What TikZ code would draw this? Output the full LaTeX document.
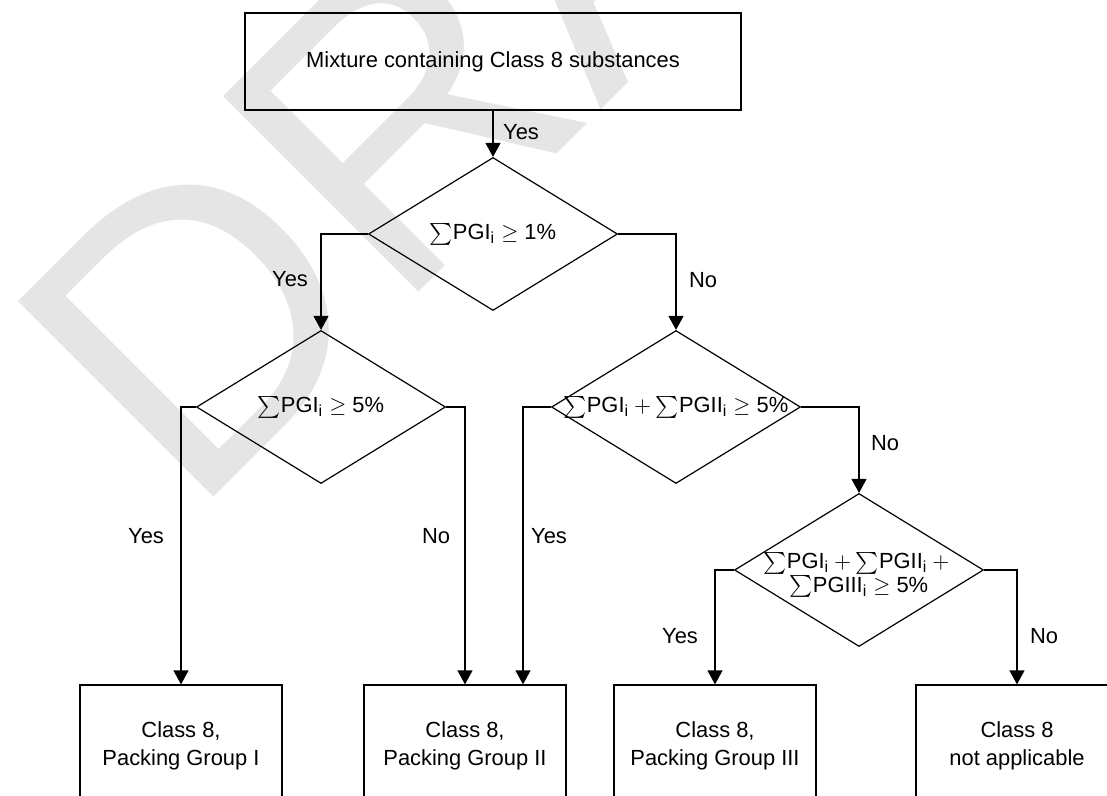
\documentclass[tikz,border=0pt,11pt]{standalone}
\usepackage{amsmath}
\usepackage{fontspec}
\setmainfont{Liberation Sans}
\usetikzlibrary{shapes.geometric,arrows.meta}

\definecolor{wmark}{rgb}{0.9,0.9,0.9}
\newcommand{\spg}[1]{{\sum}\text{PG#1}_\text{i}}

\begin{document}
\begin{tikzpicture}[x=0.5pt,y=-0.5pt,
    line width=0.6pt,
    arr/.style={-{Triangle[length=7pt,width=7.5pt]}},
    box/.style={draw, minimum width=101pt, minimum height=61pt, align=center, inner sep=0pt},
    test/.style={draw, shape=diamond, aspect=1.63, minimum width=124.5pt, minimum height=76.5pt, inner sep=-2pt, align=center},
    lbl/.style={inner sep=0pt}]
        \useasboundingbox (0,0) rectangle (1107,796);
        \clip (0,0) rectangle (1107,796);

        \node[text=wmark, rotate=45, anchor=base west, inner sep=0pt, font=\fontsize{201}{201}\selectfont] (draft) at (190,521) {DRAFT};

        \node[draw, minimum width=248pt, minimum height=48.5pt] (start) at (493,61.5) {Mixture containing Class 8 substances};

        \node[test] (d1) at (493,234) {$\spg{I}\geq\text{1\%}$};
        \node[test] (d2) at (321,407) {$\spg{I}\geq\text{5\%}$};
        \node[test] (d3) at (676,407) {$\spg{I}+\spg{II}\geq\text{5\%}$};
        \node[test] (d4) at (859,570) {};
        \node[align=center, inner sep=0pt] (d4txt) at (859,575) {$\spg{I}+\spg{II}+{}$\\[-2pt]$\spg{III}\geq\text{5\%}$};

        \node[box] (pg1) at (181,746) {Class 8,\\[0.5pt]Packing Group I};
        \node[box] (pg2) at (465,746) {Class 8,\\[0.5pt]Packing Group II};
        \node[box] (pg3) at (715,746) {Class 8,\\[0.5pt]Packing Group III};
        \node[box] (na) at (1017,746) {Class 8\\[0.5pt]not applicable};

        \draw[arr] (start) -- (d1);
        \draw[arr] (d1.west) -| (d2.north);
        \draw[arr] (d1.east) -| (d3.north);
        \draw[arr] (d2.west) -| (pg1.north);
        \draw[arr] (d2.east) -| (pg2.north);
        \draw[arr] (d3.west) -| ([xshift=29pt]pg2.north);
        \draw[arr] (d3.east) -| (d4.north);
        \draw[arr] (d4.west) -| (pg3.north);
        \draw[arr] (d4.east) -| (na.north);

        \node[lbl] (l1) at (521,132) {Yes};
        \node[lbl] (l2) at (290,279) {Yes};
        \node[lbl] (l3) at (703,280) {No};
        \node[lbl] (l4) at (885,443) {No};
        \node[lbl] (l5) at (146,536) {Yes};
        \node[lbl] (l6) at (436,536) {No};
        \node[lbl] (l7) at (549,536) {Yes};
        \node[lbl] (l8) at (680,636) {Yes};
        \node[lbl] (l9) at (1044,636) {No};
    \end{tikzpicture}
\end{document}
